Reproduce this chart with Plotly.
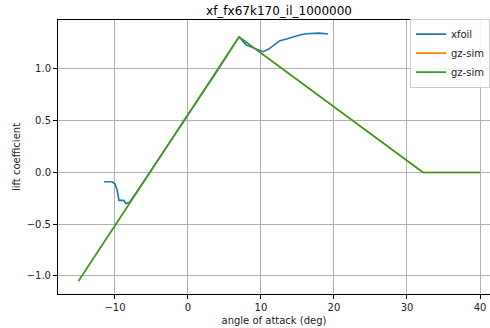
import plotly.graph_objects as go

# xfoil polar
xfoil_alpha = [-11.5, -10.4, -10.0, -9.7, -9.45, -9.2, -8.8, -8.5, -8.0, -6.0, -4.0, -2.0,
               0.0, 2.0, 4.0, 6.0, 7.0, 8.0, 9.0, 9.9, 10.3, 11.0, 12.0, 12.6, 13.5,
               14.5, 15.3, 16.2, 17.1, 18.0, 19.2]
xfoil_cl = [-0.09, -0.09, -0.11, -0.17, -0.27, -0.27, -0.27, -0.30, -0.29, -0.08, 0.13, 0.34,
            0.55, 0.77, 0.98, 1.20, 1.31, 1.23, 1.20, 1.175, 1.167, 1.19, 1.24, 1.273, 1.29,
            1.315, 1.328, 1.34, 1.345, 1.346, 1.338]

# gz-sim lift model (piecewise)
gz_alpha = [-15.0, 7.0, 32.2, 40.0]
gz_cl = [-1.05, 1.31, 0.0, 0.0]

series = [
    ("xfoil", xfoil_alpha, xfoil_cl, "#1f77b4"),
    ("gz-sim", gz_alpha, gz_cl, "#ff7f0e"),
    ("gz-sim", gz_alpha, gz_cl, "#2ca02c"),
]

fig = go.Figure()
for name, x, y, c in series:
    fig.add_trace(go.Scatter(x=x, y=y, mode="lines", name=name,
                             line=dict(color=c, width=1.6)))

font = dict(family="DejaVu Sans", size=10, color="#222")
fig.update_layout(
    width=490, height=328,
    margin=dict(l=58, r=0, t=20, b=34, autoexpand=False),
    paper_bgcolor="white", plot_bgcolor="white",
    font=font,
    title=dict(text="xf_fx67k170_il_1000000", x=279/490, xanchor="center",
               y=1 - 11/328, yanchor="middle", font=dict(size=12, family="DejaVu Sans", color="#000")),
    legend=dict(x=1.0, xanchor="right", y=1.005, yanchor="top",
                bgcolor="rgba(255,255,255,0.85)", bordercolor="#cccccc", borderwidth=1,
                font=dict(size=10, family="DejaVu Sans", color="#222"),
                tracegroupgap=0, itemwidth=30),
    showlegend=True,
)
fig.update_xaxes(range=[-17.8, 41.37], tickvals=[-10, 0, 10, 20, 30, 40],
                 showgrid=True, gridcolor="#b0b0b0", gridwidth=0.8,
                 showline=True, linecolor="black", linewidth=1, mirror=True,
                 ticks="outside", ticklen=4, tickcolor="black", zeroline=False,
                 automargin=False,
                 title=dict(text="angle of attack (deg)", standoff=4, font=font))
fig.update_yaxes(range=[-1.174, 1.473], tickvals=[-1.0, -0.5, 0.0, 0.5, 1.0], tickformat=".1f",
                 showgrid=True, gridcolor="#b0b0b0", gridwidth=0.8,
                 showline=True, linecolor="black", linewidth=1,
                 ticks="outside", ticklen=4, tickcolor="black", zeroline=False,
                 automargin=False,
                 title=dict(text="lift coefficient", standoff=4, font=font))

fig.write_html("out.html", config={"displayModeBar": False},
               post_script="document.body.style.margin='0';document.body.style.overflow='hidden';")
